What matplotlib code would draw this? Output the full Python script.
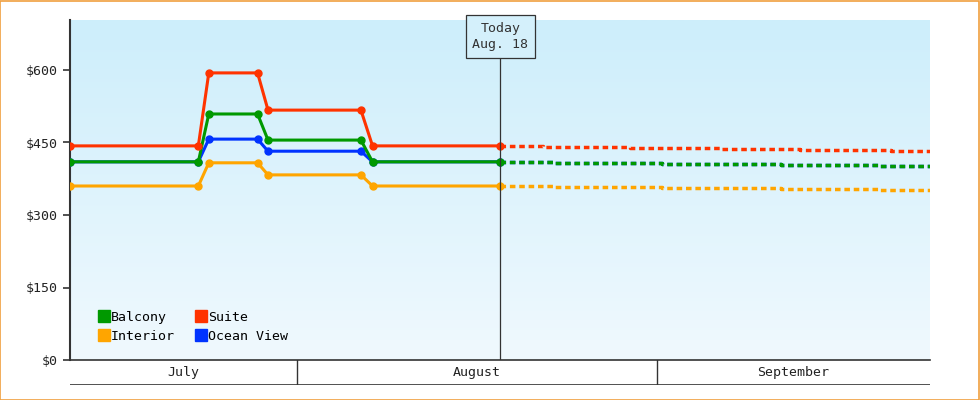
import matplotlib
matplotlib.use("Agg")
import matplotlib.pyplot as plt
import numpy as np
from matplotlib.patches import Rectangle
from matplotlib.colors import LinearSegmentedColormap
from matplotlib.lines import Line2D

# x in days since Jul 1 (day 0 = Jul 1, day 31 = Aug 1, day 62 = Sep 1)
hist_x = [11.45, 22.5, 23.4, 27.6, 28.5, 36.5, 37.5, 48.5]
suite = [443, 443, 594, 594, 517, 517, 443, 443]
balcony = [410, 410, 509, 509, 455, 455, 410, 410]
ocean = [410, 410, 457, 457, 432, 432, 410, 410]
interior = [360, 360, 408, 408, 383, 383, 360, 360]

suite_fx = [48.5, 52.2, 59.7, 67.4, 74.3, 82.1, 85.5]
suite_f = [443, 441, 439, 437, 435, 433, 433]
other_fx = [48.5, 53.0, 62.4, 72.7, 81.2, 85.5]
balcony_f = [410, 408, 406, 404, 402, 402]
ocean_f = [410, 408, 406, 404, 402, 402]
interior_f = [360, 358, 356, 354, 352, 352]

months = ["July", "August", "September"]
month_bounds = [11.45, 31, 62, 85.5]
yticks = [0, 150, 300, 450, 600]
ytick_labels = ["$0", "$150", "$300", "$450", "$600"]
today_x = 48.5
today_label = "Today\nAug. 18"

FONT = "DejaVu Sans Mono"
C = {"Balcony": "#009900", "Suite": "#ff3300", "Interior": "#ffa500", "Ocean View": "#0033ff"}

fig = plt.figure(figsize=(9.8, 4), dpi=100)
fig.patch.set_facecolor("white")
fig.patches.append(Rectangle((0.0005, 0.001), 0.998, 0.997, transform=fig.transFigure,
                             fill=False, edgecolor="#f0a040", linewidth=1.2))
ax = fig.add_axes([70/980, 40/400, 860/980, 340/400])
xmin, xmax = month_bounds[0], month_bounds[-1]
ymax = 600 * 340 / 290
grad = np.linspace(0, 1, 256).reshape(-1, 1)
cm = LinearSegmentedColormap.from_list("g", ["#cdeefb", "#f0f9fe"])
ax.imshow(grad, extent=[xmin, xmax, 0, ymax], origin="upper", aspect="auto", cmap=cm, zorder=0)
ax.set_xlim(xmin, xmax)
ax.set_ylim(0, ymax)

def hist(y, c, z):
    ax.plot(hist_x, y, color=c, lw=2.2, marker="o", ms=5, zorder=z)

def fut(x, y, c, z):
    ax.step(x, y, where="post", color=c, lw=2.5, ls=(0, (1.6, 1.1)), zorder=z)

hist(ocean, C["Ocean View"], 3)
hist(interior, C["Interior"], 3)
hist(balcony, C["Balcony"], 4)
hist(suite, C["Suite"], 5)
fut(other_fx, ocean_f, C["Ocean View"], 3)
fut(other_fx, interior_f, C["Interior"], 3)
fut(other_fx, balcony_f, C["Balcony"], 4)
fut(suite_fx, suite_f, C["Suite"], 5)

ax.axvline(today_x, color="#333333", lw=0.9, zorder=6)
ax.text(today_x, ymax - 4, today_label, ha="center", va="top", fontfamily=FONT, fontsize=9.5,
        color="#333333", linespacing=1.3, zorder=7,
        bbox=dict(boxstyle="square,pad=0.5", fc="#d4f0fb", ec="#333333", lw=0.9))

ax.set_yticks(yticks)
ax.set_yticklabels(ytick_labels, fontfamily=FONT, fontsize=9.5, color="#222222")
ax.set_xticks([])
for s in ["top", "right"]:
    ax.spines[s].set_visible(False)
ax.spines["left"].set_linewidth(1.5)
ax.spines["left"].set_color("#333333")
ax.spines["bottom"].set_linewidth(1.2)
ax.spines["bottom"].set_color("#333333")
ax.tick_params(axis="y", length=5, width=1.2, color="#333333")

handles = [Line2D([], [], marker="s", ls="", color=C[k], ms=8) for k in ["Balcony", "Interior", "Suite", "Ocean View"]]
ax.legend(handles, ["Balcony", "Interior", "Suite", "Ocean View"], ncol=2, loc="lower left",
          bbox_to_anchor=(0.02, 0.015), frameon=False, handletextpad=0.1, columnspacing=1.6,
          labelspacing=0.45, handlelength=0.8, prop={"family": FONT, "size": 9.5})

bx = fig.add_axes([70/980, 15/400, 860/980, 25/400])
bx.set_xlim(xmin, xmax)
bx.set_ylim(0, 1)
bx.axis("off")
bx.axhline(0, color="#333333", lw=1.2)
for b in month_bounds[1:-1]:
    bx.axvline(b, color="#333333", lw=1.0)
for i, m in enumerate(months):
    bx.text((month_bounds[i] + month_bounds[i + 1]) / 2, 0.5, m, ha="center", va="center",
            fontfamily=FONT, fontsize=9.5, color="#222222")

fig.savefig("out.png", dpi=100)
